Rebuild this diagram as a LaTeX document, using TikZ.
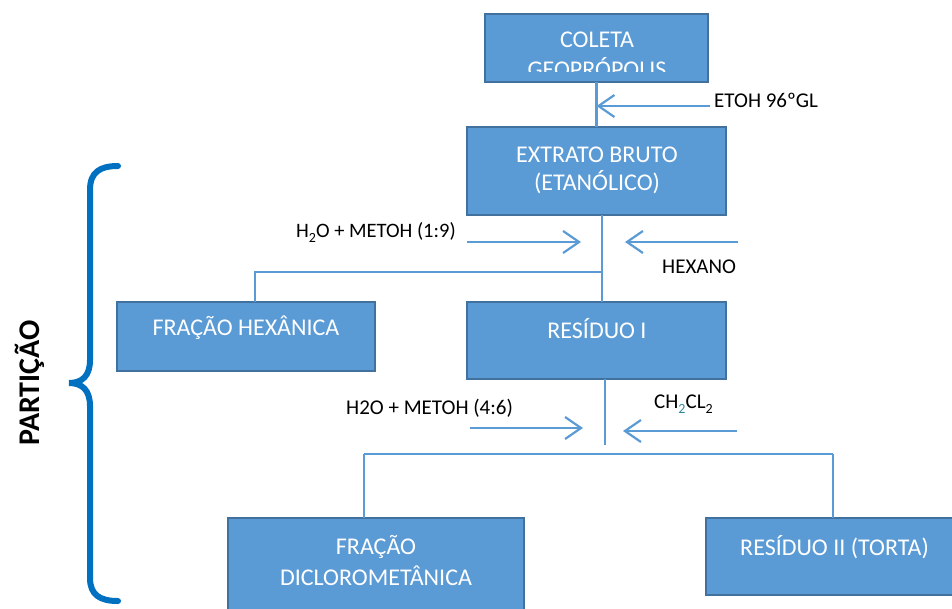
\documentclass[tikz,border=0pt]{standalone}
\usepackage{fontspec}
\setmainfont{Carlito}
\usetikzlibrary{arrows.meta}
\definecolor{boxfill}{HTML}{5B9BD5}
\definecolor{boxline}{HTML}{41719C}
\definecolor{linkc}{HTML}{5B9BD5}
\definecolor{bracec}{HTML}{0070C0}
\definecolor{subteal}{HTML}{31859C}
% lowered chemical subscript
\newcommand{\lowsub}[1]{\raisebox{-5pt}{\fontsize{14}{14}\selectfont #1}}
\begin{document}
\begin{tikzpicture}[x=1pt,y=-1pt,
  box/.style={draw=boxline, fill=boxfill, line width=2.4pt, inner sep=0pt, outer sep=0pt, anchor=north west},
  boxtext/.style={text=white, font=\fontsize{24}{28}\selectfont, align=center, inner sep=0pt},
  lbl/.style={text=black, font=\fontsize{21}{25}\selectfont, inner sep=0pt, anchor=west},
  link/.style={draw=linkc, line width=2.2pt},
  feed/.style={link, -{Straight Barb[length=16pt,width=22pt]}}]
\useasboundingbox (0,0) rectangle (952,608);

% boxes
\node[box, minimum width=223pt, minimum height=68pt] (b1) at (485,14) {};
\node[box, minimum width=259pt, minimum height=88pt] (b2) at (467,127) {};
\node[box, minimum width=258pt, minimum height=69pt] (b3) at (117,302) {};
\node[box, minimum width=259pt, minimum height=77pt] (b4) at (467,302) {};
\node[box, minimum width=296pt, minimum height=102pt] (b5) at (228,518) {};
\node[box, minimum width=257pt, minimum height=77pt] (b6) at (706,518) {};

% box texts
\begin{scope}
  \clip (485,14) rectangle (708,71);
  \node[boxtext] (t1a) at (597,40) {COLETA};
  \node[boxtext] (t1b) at (597,68) {GEOPRÓPOLIS};
\end{scope}
\node[boxtext] (t2a) at (597,155) {EXTRATO BRUTO};
\node[boxtext] (t2b) at (597,182) {(ETANÓLICO)};
\node[boxtext] (t3) at (246,328) {FRAÇÃO HEXÂNICA};
\node[boxtext] (t4) at (597,329) {RESÍDUO I};
\node[boxtext] (t5a) at (376,547) {FRAÇÃO};
\node[boxtext] (t5b) at (376,576) {DICLOROMETÂNICA};
\node[boxtext] (t6) at (834.5,547) {RESÍDUO II (TORTA)};

% reagent labels
\node[lbl] (l1) at (714,100) {ETOH 96ºGL};
\node[lbl, font=\fontsize{20.5}{25}\selectfont] (l2) at (296,232) {H\lowsub{2}O + METOH (1:9)};
\node[lbl] (l3) at (662,267) {HEXANO};
\node[lbl] (l4) at (346,408) {H2O + METOH (4:6)};
\node[lbl] (l5) at (654,404) {CH\lowsub{\textcolor{subteal}{2}}CL\lowsub{2}};

% junction and feed points
\coordinate (e1) at (710,106);
\coordinate (j1) at (602,272);
\coordinate (k1) at (255,272);
\coordinate (s1) at (467,242);
\coordinate (s1e) at (581,242);
\coordinate (h1) at (738,242);
\coordinate (h1e) at (625,242);
\coordinate (j2) at (605,445);
\coordinate (m1) at (364,454);
\coordinate (m2) at (833,454);
\coordinate (s2) at (470,428);
\coordinate (s2e) at (583,428);
\coordinate (c1) at (737,431);
\coordinate (c1e) at (623,431);

% connectors
\draw[link] (b1.south) -- (b2.north);
\draw[feed] (e1) -- (b1.south |- e1);
\draw[link] (b2.south -| j1) -- (b4.north -| j1);
\draw[link] (j1) -- (k1) -- (k1 |- b3.north);
\draw[feed] (s1) -- (s1e);
\draw[feed] (h1) -- (h1e);
\draw[link] (b4.south -| j2) -- (j2);
\draw[link] (m1) -- (m2);
\draw[link] (m1) -- (m1 |- b5.north);
\draw[link] (m2) -- (m2 |- b6.north);
\draw[feed] (s2) -- (s2e);
\draw[feed] (c1) -- (c1e);

% partition brace
\draw[draw=bracec, line width=6pt, line cap=round]
  (118,166) .. controls (100,166) and (90,172) .. (90,190)
  -- (90,360) .. controls (90,376) and (82,383) .. (69,383)
  .. controls (82,383) and (90,390) .. (90,406)
  -- (90,578) .. controls (90,595) and (100,601) .. (118,601);
\node[rotate=90, font=\fontsize{30}{34}\selectfont\bfseries, inner sep=0pt] (part) at (30,383) {PARTIÇÃO};
\end{tikzpicture}
\end{document}
